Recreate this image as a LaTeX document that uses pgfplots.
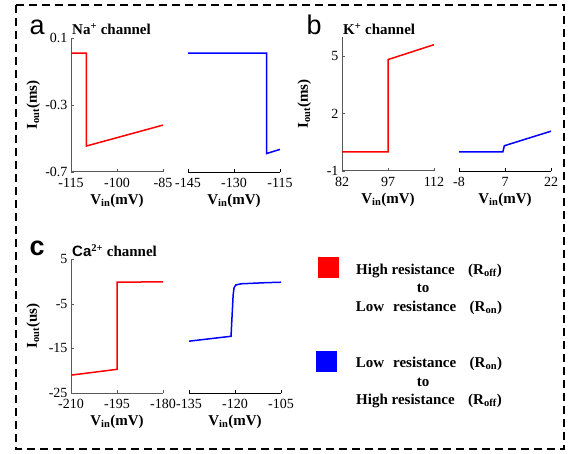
\documentclass[border=0pt]{standalone}
\usepackage{fontspec}
\setmainfont{Liberation Serif}
\newfontfamily\arial{Liberation Sans}
\usepackage{pgfplots}
\pgfplotsset{compat=1.18}

% one pixel of the reference = 1pt
\pgfplotsset{
  panel/.style={
    scale only axis, width=92pt, height=134pt, anchor=south west,
    tick align=inside, major tick length=3pt,
    /pgf/number format/assume math mode=true,
    ticklabel style={font=\fontsize{14}{14}\selectfont},
    xticklabel style={yshift=-3pt},
    label style={font=\fontsize{15}{15}\selectfont\bfseries},
    xlabel={V\textsubscript{in}(mV)},
    xlabel style={at={(axis description cs:0.5,0)}, anchor=center, yshift=-29pt},
    ylabel style={at={(axis description cs:-0.41,0.5)}, anchor=center},
    every axis plot/.append style={line width=1.5pt, no markers},
  },
  leftax/.style={panel, axis x line*=bottom, axis y line*=left,
    axis line style={-, line width=1pt, black!65}, tick style={black!65}},
  rightax/.style={panel, axis x line*=bottom, hide y axis,
    axis line style={-, line width=0.6pt, black}, tick style={black}},
}

\begin{document}
\begin{tikzpicture}
\useasboundingbox (0,0) rectangle (575pt,-454pt);
\draw[dash pattern=on 8pt off 5pt, line width=1.5pt] (16pt,-5pt) rectangle (564pt,-449pt);

% ---- a: Na+ channel
\begin{axis}[leftax, at={(71pt,-172pt)}, xmin=-115, xmax=-85, ymin=-0.7, ymax=0.1,
  xtick={-115,-100,-85}, ytick={-0.7,-0.3,0.1},
  yticklabel style={/pgf/number format/fixed, /pgf/number format/precision=1},
  ylabel={I\textsubscript{out}(ms)}]
\addplot[red] coordinates {(-115,0.01) (-110,0.01) (-110,-0.545) (-85,-0.42)};
\end{axis}
\begin{axis}[rightax, at={(188pt,-172pt)}, xmin=-145, xmax=-115, ymin=-0.7, ymax=0.1,
  xtick={-145,-130,-115}]
\addplot[blue] coordinates {(-145,0.01) (-119.4,0.01) (-119.4,-0.59) (-115,-0.565)};
\end{axis}

% ---- b: K+ channel
\begin{axis}[leftax, at={(342pt,-171pt)}, xmin=82, xmax=112, ymin=-1, ymax=6,
  xtick={82,97,112}, ytick={-1,2,5},
  ylabel={I\textsubscript{out}(ms)}]
\addplot[red] coordinates {(82,0) (97,0) (97,4.82) (112,5.6)};
\end{axis}
\begin{axis}[rightax, at={(459pt,-171pt)}, xmin=-8, xmax=22, ymin=-1, ymax=6,
  xtick={-8,7,22}]
\addplot[blue] coordinates {(-8,0) (6.3,0) (6.8,0.32) (22,1.08)};
\end{axis}

% ---- c: Ca2+ channel
\begin{axis}[leftax, at={(71pt,-393pt)}, xmin=-210, xmax=-180, ymin=-25, ymax=5,
  xtick={-210,-195,-180}, ytick={-25,-15,-5,5},
  ylabel={I\textsubscript{out}(us)}]
\addplot[red] coordinates {(-210,-21) (-195,-19.7) (-195,-0.2) (-180,-0.1)};
\end{axis}
\begin{axis}[rightax, at={(189pt,-393pt)}, xmin=-135, xmax=-105, ymin=-25, ymax=5,
  xtick={-135,-120,-105}]
\addplot[blue] coordinates {(-135,-13.4) (-121.3,-12.3) (-120.6,-3) (-120.3,-1.4)
  (-119.7,-0.8) (-118,-0.55) (-110,-0.3) (-105,-0.2)};
\end{axis}

% panel letters and titles
\node[anchor=base west, font=\fontsize{27}{27}\selectfont\arial] at (26pt,-35pt) {a};
\node[anchor=base west, font=\fontsize{27}{27}\selectfont\arial] at (303pt,-35pt) {b};
\node[anchor=base west, font=\fontsize{27}{27}\selectfont\arial\bfseries] at (26pt,-255pt) {c};
\node[anchor=base west, inner sep=0pt, font=\fontsize{15}{15}\selectfont\bfseries] at (72pt,-35pt) {Na\textsuperscript{+} channel};
\node[anchor=base west, inner sep=0pt, font=\fontsize{15}{15}\selectfont\bfseries] at (343pt,-35pt) {K\textsuperscript{+} channel};
\node[anchor=base west, inner sep=0pt, font=\fontsize{15}{15}\selectfont\bfseries] at (72pt,-257pt) {{\arial Ca}\textsuperscript{2+} channel};

% legend
\fill[red] (318pt,-257pt) rectangle (339pt,-278pt);
\fill[blue] (316pt,-351pt) rectangle (337pt,-372pt);
\begin{scope}[every node/.style={anchor=base, inner sep=0pt, font=\fontsize{15}{15}\selectfont\bfseries}]
\node at (429pt,-274pt) {High resistance\hspace{0.9em}(R\textsubscript{off})};
\node at (423pt,-292pt) {to};
\node at (429pt,-311pt) {Low\hspace{0.6em}resistance\hspace{0.9em}(R\textsubscript{on})};
\node at (429pt,-367pt) {Low\hspace{0.6em}resistance\hspace{0.9em}(R\textsubscript{on})};
\node at (423pt,-386pt) {to};
\node at (429pt,-404pt) {High resistance\hspace{0.9em}(R\textsubscript{off})};
\end{scope}
\end{tikzpicture}
\end{document}
